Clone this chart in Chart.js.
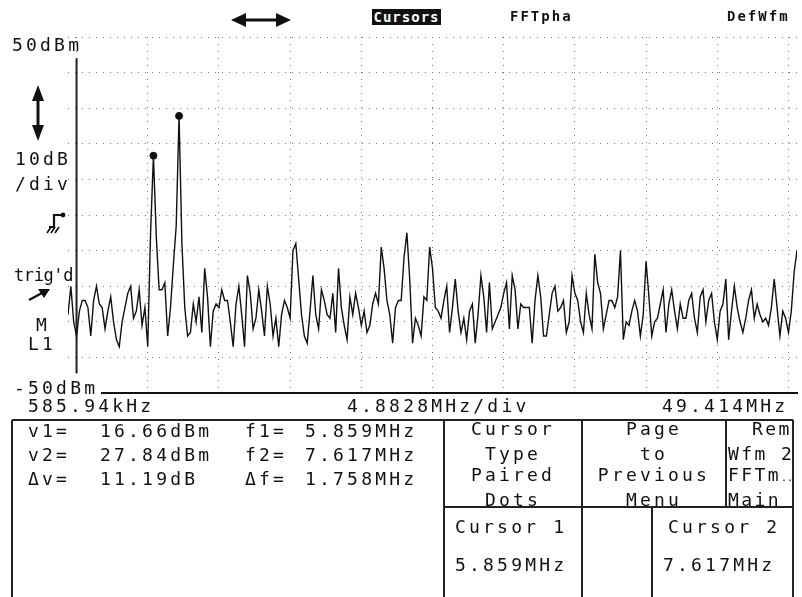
<!DOCTYPE html>
<html>
<head>
<meta charset="utf-8">
<script src="https://cdn.jsdelivr.net/npm/chart.js@4.4.1/dist/chart.umd.min.js"></script>
<style>
  html, body { margin: 0; padding: 0; background: #fff; }
  #screen { position: relative; width: 802px; height: 597px; overflow: hidden; background: #fff; }
  #scope { position: absolute; left: 0; top: 0; }
  #marks { position: absolute; left: 0; top: 0; pointer-events: none; }
  .t { position: absolute; font: 18px "DejaVu Sans Mono", monospace; line-height: 18px; letter-spacing: 3.2px; white-space: pre; color: #111; }
  .s { position: absolute; font: bold 14px "DejaVu Sans Mono", monospace; line-height: 16px; letter-spacing: 2px; white-space: pre; color: #111; }
  .c { text-align: center; }
  #cursorsTab { left: 372px; top: 9px; width: 69px; height: 16px; line-height: 16px; background: #111; color: #fff; letter-spacing: 1px; text-align: center; }
  #lowRef { background: #fff; padding-right: 3px; }
  #trigd { font-size: 17px; letter-spacing: -0.4px; }
</style>
</head>
<body>
<div id="screen">
  <canvas id="scope" width="802" height="597"></canvas>

  <svg id="marks" width="802" height="597">
    <g fill="#111" stroke="#111">
      <!-- horizontal position arrow -->
      <line x1="242" y1="20" x2="280" y2="20" stroke-width="3"/>
      <polygon points="231,20 246,13 246,27" stroke="none"/>
      <polygon points="291,20 276,13 276,27" stroke="none"/>
      <!-- vertical scale arrow -->
      <line x1="38" y1="97" x2="38" y2="128" stroke-width="3"/>
      <polygon points="38,85 32,101 44,101" stroke="none"/>
      <polygon points="38,141 32,125 44,125" stroke="none"/>
      <!-- trigger slope symbol -->
      <path d="M49 227 H54 V215 H62" fill="none" stroke-width="2.2"/>
      <circle cx="63" cy="215" r="2.4" stroke="none"/>
      <path d="M47 233 L51 227 M51 233 L55 227 M55 233 L59 227" fill="none" stroke-width="1.6"/>
      <!-- trigger level arrow -->
      <line x1="29" y1="300" x2="42" y2="293" stroke-width="2.4"/>
      <polygon points="50,289 38,289 44,298" stroke="none"/>
    </g>
    <!-- readout and menu boxes -->
    <path d="M12 420 H793 M12 420 V597 M444 420 V597 M582 420 V597 M726 420 V507 M793 420 V597 M444 507 H793 M652 507 V597"
          fill="none" stroke="#222" stroke-width="2"/>
  </svg>

  <div class="s" id="cursorsTab">Cursors</div>
  <div class="s" style="left:510px; top:8px;">FFTpha</div>
  <div class="s" style="left:727px; top:8px;">DefWfm</div>

  <div class="t" style="left:12px; top:36px;">50dBm</div>
  <div class="t" style="left:15px; top:150px;">10dB</div>
  <div class="t" style="left:15px; top:175px;">/div</div>
  <div class="t" id="trigd" style="left:14px; top:266px;">trig'd</div>
  <div class="t" style="left:36px; top:316px;">M</div>
  <div class="t" style="left:28px; top:335px;">L1</div>
  <div class="t" id="lowRef" style="left:14px; top:379px;">-50dBm</div>

  <div class="t" id="xStart" style="left:28px; top:397px;"></div>
  <div class="t" id="xScale" style="left:347px; top:397px;"></div>
  <div class="t" id="xEnd" style="left:662px; top:397px;"></div>

  <div class="t" style="left:28px; top:422px;">v1=</div>
  <div class="t" style="left:100px; top:422px;">16.66dBm</div>
  <div class="t" style="left:245px; top:422px;">f1=</div>
  <div class="t" style="left:305px; top:422px;">5.859MHz</div>
  <div class="t" style="left:28px; top:446px;">v2=</div>
  <div class="t" style="left:100px; top:446px;">27.84dBm</div>
  <div class="t" style="left:245px; top:446px;">f2=</div>
  <div class="t" style="left:305px; top:446px;">7.617MHz</div>
  <div class="t" style="left:28px; top:470px;">Δv=</div>
  <div class="t" style="left:100px; top:470px;">11.19dB</div>
  <div class="t" style="left:245px; top:470px;">Δf=</div>
  <div class="t" style="left:305px; top:470px;">1.758MHz</div>

  <div class="t c" style="left:444px; width:138px; top:420px;">Cursor</div>
  <div class="t c" style="left:444px; width:138px; top:445px;">Type</div>
  <div class="t c" style="left:444px; width:138px; top:466px;">Paired</div>
  <div class="t c" style="left:444px; width:138px; top:491px;">Dots</div>

  <div class="t c" style="left:582px; width:144px; top:420px;">Page</div>
  <div class="t c" style="left:582px; width:144px; top:445px;">to</div>
  <div class="t c" style="left:582px; width:144px; top:466px;">Previous</div>
  <div class="t c" style="left:582px; width:144px; top:491px;">Menu</div>

  <div class="t" style="left:752px; top:420px; letter-spacing:2.4px;">Rem</div>
  <div class="t" style="left:728px; top:445px; letter-spacing:2.4px;">Wfm 2</div>
  <div class="t" style="left:728px; top:466px; letter-spacing:2.4px;">FFTm<span style="font-size:10px; letter-spacing:0;">..</span></div>
  <div class="t" style="left:728px; top:491px; letter-spacing:2.4px;">Main</div>

  <div class="t" style="left:455px; top:518px;">Cursor 1</div>
  <div class="t" style="left:455px; top:556px;">5.859MHz</div>
  <div class="t" style="left:668px; top:518px;">Cursor 2</div>
  <div class="t" style="left:663px; top:556px;">7.617MHz</div>
</div>

<script>
// FFT magnitude, one point every 2 bins (0 .. 50 MHz), in dBm
const binStepMHz = 0.1953125;
const spectrumDbm = [
  -28, -20, -30, -34, -27, -24, -24, -26, -34, -24,
  -20, -25, -26, -32, -27, -23, -30, -35, -37, -30,
  -26, -22, -20, -29, -27, -21, -31, -26, -37, -5,
  16.66, -6, -21, -21, -19, -34, -26, -14, -3, 27.84,
  -8, -26, -34, -33, -25, -30, -23, -33, -15, -23,
  -37, -27, -25, -26, -21, -24, -24, -30, -37, -25,
  -20, -28, -37, -17, -22, -32, -29, -21, -27, -34,
  -20, -25, -34, -29, -37, -28, -24, -26, -29, -10,
  -8, -18, -28, -34, -36, -27, -17, -28, -32, -21,
  -24, -28, -29, -22, -33, -15, -26, -31, -35, -23,
  -28, -22, -26, -31, -27, -33, -31, -25, -22, -25,
  -9, -15, -24, -28, -36, -26, -24, -24, -12, -5,
  -18, -36, -29, -31, -34, -23, -24, -9, -15, -26,
  -27, -29, -24, -20, -33, -26, -18, -27, -33, -29,
  -35, -27, -25, -36, -28, -17, -23, -33, -19, -32,
  -30, -28, -26, -22, -19, -32, -17, -21, -32, -25,
  -26, -26, -26, -36, -24, -17, -23, -34, -34, -28,
  -22, -20, -27, -26, -24, -33, -30, -17, -22, -24,
  -30, -33, -22, -28, -32, -11, -19, -22, -32, -28,
  -24, -24, -26, -23, -10, -35, -30, -31, -27, -24,
  -27, -34, -28, -13, -23, -34, -30, -29, -25, -21,
  -33, -25, -21, -27, -32, -25, -29, -29, -24, -22,
  -29, -33, -23, -21, -30, -24, -22, -30, -35, -27,
  -25, -18, -35, -27, -20, -26, -30, -33, -29, -24,
  -21, -29, -25, -28, -30, -29, -31, -26, -18, -26,
  -34, -27, -29, -33, -27, -16, -10
];

// paired-dot cursors
const cursorFreqMHz = [5.859, 7.617];
const cursorDbm = [16.66, 27.84];

// graticule: 10 divisions of 4.8828 MHz starting at 585.94 kHz
const graticuleMHz = [0.586, 5.469, 10.352, 15.234, 20.117, 25.0, 29.883, 34.766, 39.648, 44.531, 49.414];
const freqLabels = ["585.94kHz", "4.8828MHz/div", "49.414MHz"];

// left graticule edge bar
const edgeFreqMHz = 0.586;
const edgeDbm = [44, -44.4];

document.getElementById("xStart").textContent = freqLabels[0];
document.getElementById("xScale").textContent = freqLabels[1];
document.getElementById("xEnd").textContent = freqLabels[2];

const spectrumPoints = spectrumDbm.map((v, i) => ({ x: i * binStepMHz, y: v }));
const cursorPoints = cursorFreqMHz.map((f, i) => ({ x: f, y: cursorDbm[i] }));
const edgePoints = edgeDbm.map(v => ({ x: edgeFreqMHz, y: v }));

new Chart(document.getElementById("scope"), {
  type: "line",
  data: {
    datasets: [
      {
        label: "Cursors",
        type: "scatter",
        data: cursorPoints,
        pointRadius: 3.5,
        pointBackgroundColor: "#111",
        pointBorderColor: "#111",
        showLine: false
      },
      {
        label: "FFT",
        data: spectrumPoints,
        borderColor: "#111",
        borderWidth: 1.4,
        pointRadius: 0,
        tension: 0
      },
      {
        label: "Edge",
        data: edgePoints,
        borderColor: "#222",
        borderWidth: 2,
        pointRadius: 0
      }
    ]
  },
  options: {
    responsive: false,
    animation: false,
    events: [],
    layout: { padding: { left: 68, right: 5, top: 37, bottom: 204 } },
    plugins: {
      legend: { display: false },
      tooltip: { enabled: false }
    },
    scales: {
      x: {
        type: "linear",
        min: 0,
        max: 50,
        afterBuildTicks: scale => {
          scale.ticks = graticuleMHz.map(v => ({ value: v }));
        },
        ticks: { display: false },
        grid: { color: "#777", lineWidth: 1, drawTicks: false },
        border: { display: true, color: "#111", width: 2, dash: [1, 6] }
      },
      y: {
        min: -50,
        max: 50,
        ticks: { display: false, stepSize: 10 },
        grid: { color: "#777", lineWidth: 1, drawTicks: false },
        border: { display: false, dash: [1, 6] }
      }
    }
  }
});
</script>
</body>
</html>
